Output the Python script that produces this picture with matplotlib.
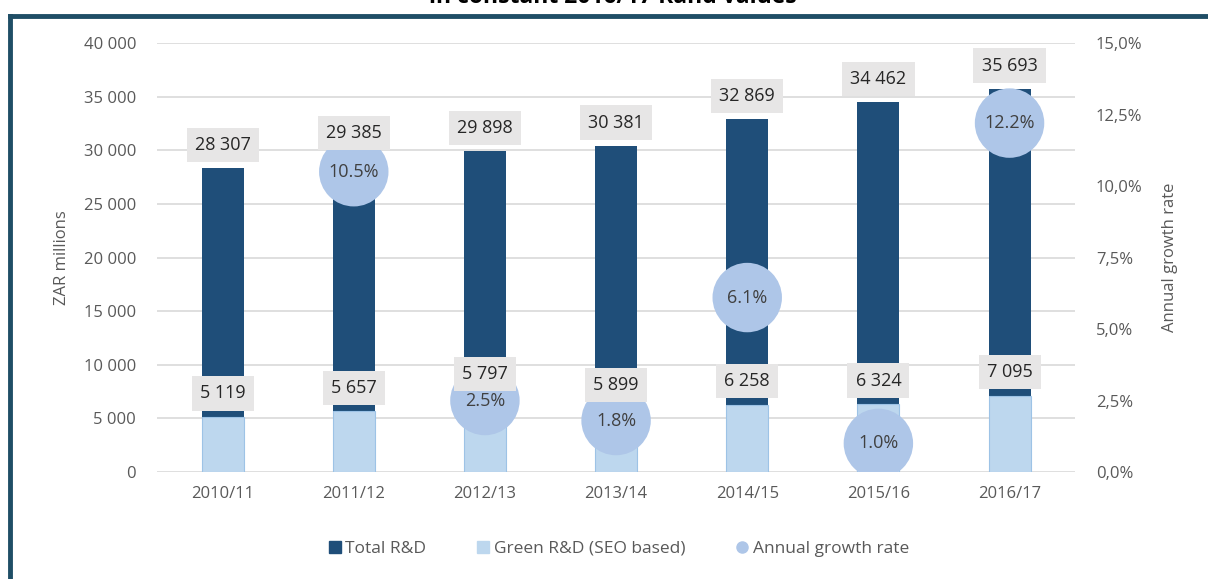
import numpy as np
import matplotlib
matplotlib.use("Agg")
from matplotlib import pyplot as plt
from matplotlib.lines import Line2D
from matplotlib.ticker import FuncFormatter

# data
years = ["2010/11", "2011/12", "2012/13", "2013/14", "2014/15", "2015/16", "2016/17"]
total_rd = [28307, 29385, 29898, 30381, 32869, 34462, 35693]
green_rd = [5119, 5657, 5797, 5899, 6258, 6324, 7095]
growth = [np.nan, 10.5, 2.5, 1.8, 6.1, 1.0, 12.2]

# label lift in points (Excel moved one label up to clear a bubble)
green_lift = [17, 17, 26, 17, 17, 17, 17]

plt.rcParams['font.family'] = ['Open Sans', 'DejaVu Sans']

dark = "#1F4E79"
light = "#BDD7EE"
circ = "#AEC6E8"
grey = "#595959"

fig = plt.figure(figsize=(12.08, 5.79), dpi=100)
ax1 = fig.add_axes([0.130, 0.1848, 0.760, 0.7409])
ax2 = ax1.twinx()

x = np.arange(len(years))
ax1.bar(x, total_rd, width=0.32, color=dark, zorder=2)
ax1.bar(x, green_rd, width=0.32, color=light, edgecolor="#9DC3E6", linewidth=0.8, zorder=3)

ax1.set_ylim(0, 40000)
ax1.set_xlim(-0.5, len(years) - 0.5)
ax1.set_yticks(np.arange(0, 40001, 5000))
ax1.yaxis.set_major_formatter(FuncFormatter(lambda v, p: f"{int(v):,}".replace(",", " ")))
ax1.set_xticks(x)
ax1.set_xticklabels(years)
ax1.grid(axis="y", color="#D9D9D9", linewidth=1.2, zorder=0)
ax1.set_axisbelow(True)
for s in ax1.spines.values():
    s.set_visible(False)
for s in ax2.spines.values():
    s.set_visible(False)
ax1.tick_params(axis="both", length=0, labelsize=12, labelcolor=grey, pad=10)
ax1.tick_params(axis="y", pad=15)
ax1.set_ylabel("ZAR millions", fontsize=12, color=grey, labelpad=10)

ax2.set_ylim(0, 15)
ax2.set_yticks(np.arange(0, 15.01, 2.5))
ax2.yaxis.set_major_formatter(FuncFormatter(lambda v, p: f"{v:.1f}%".replace(".", ",")))
ax2.tick_params(axis="y", length=0, labelsize=12, labelcolor=grey, pad=15)
ax2.set_ylabel("Annual growth rate", fontsize=12, color=grey, labelpad=14)

ax2.scatter(x, growth, s=2500, color=circ, edgecolors="none", zorder=3)
for xi, g in zip(x, growth):
    if not np.isnan(g):
        ax2.text(xi, g, f"{g:.1f}%", ha="center", va="center", fontsize=13, color="#404040", zorder=4)

box = dict(boxstyle="square,pad=0.45", facecolor="#E7E6E6", edgecolor="none")
for xi, t in zip(x, total_rd):
    ax2.annotate(f"{t:,}".replace(",", " "), (xi, t), xycoords=ax1.transData,
                 xytext=(0, 17), textcoords="offset points", ha="center", va="center",
                 fontsize=13, color="#262626", bbox=box, zorder=5, annotation_clip=False)
for xi, t, lift in zip(x, green_rd, green_lift):
    ax2.annotate(f"{t:,}".replace(",", " "), (xi, t), xycoords=ax1.transData,
                 xytext=(0, lift), textcoords="offset points", ha="center", va="center",
                 fontsize=13, color="#262626", bbox=box, zorder=5, annotation_clip=False)

handles = [
    Line2D([], [], marker="s", linestyle="none", color=dark, markersize=8),
    Line2D([], [], marker="s", linestyle="none", color=light, markersize=8),
    Line2D([], [], marker="o", linestyle="none", color=circ, markersize=8),
]
fig.legend(handles, ["Total R&D", "Green R&D (SEO based)", "Annual growth rate"],
           loc="center", bbox_to_anchor=(0.509, 0.052), ncol=3, frameon=False,
           fontsize=12.5, labelcolor=grey, handletextpad=-0.2, handlelength=1.6,
           columnspacing=2.5)

# frame and clipped title from the source figure
fig.add_artist(Line2D([0.008, 1.0], [0.972, 0.972], transform=fig.transFigure, color="#1F4E66", linewidth=3.5))
fig.add_artist(Line2D([0.0085, 0.0085], [0.0, 0.972], transform=fig.transFigure, color="#1F4E66", linewidth=3.5))
fig.text(0.507, 1.005, "in constant 2016/17 Rand values", ha="center", va="center",
         fontsize=16.5, fontweight="bold", color="#000000")

fig.savefig("out.png", dpi=100)
